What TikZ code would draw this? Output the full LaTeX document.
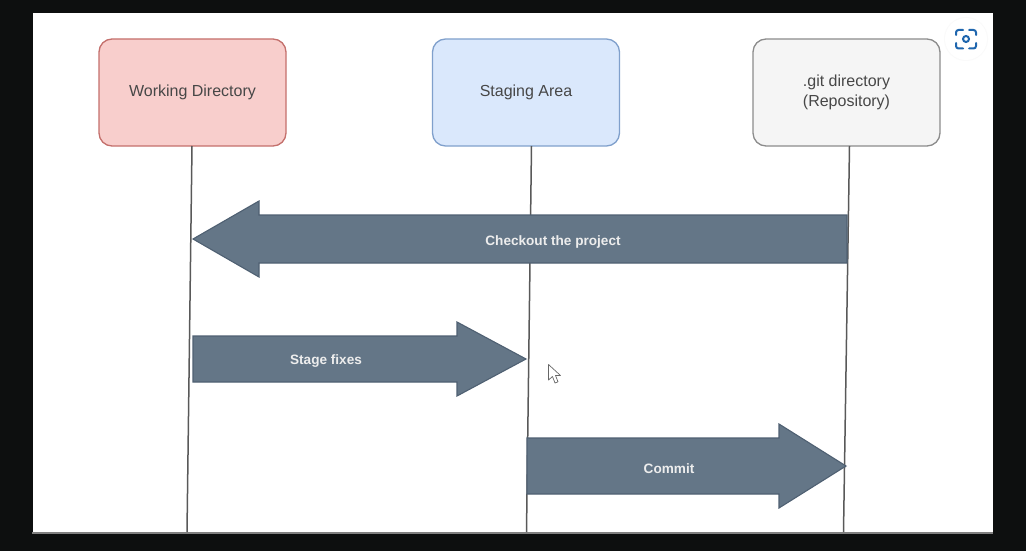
\documentclass[tikz,border=0pt]{standalone}
\usepackage{fontspec}
\setmainfont{Liberation Sans}
\definecolor{frame}{HTML}{0D0F0F}
\definecolor{slatefill}{HTML}{647687}
\definecolor{slateline}{HTML}{4F6072}
\definecolor{iconblue}{HTML}{1F66AE}
\tikzset{
  lane/.style={rounded corners=13pt,minimum width=187pt,minimum height=107pt,line width=1.3pt,
    align=center,font=\fontsize{16}{20}\selectfont,text=black!72,inner sep=0pt},
  lifeline/.style={draw=black!65,line width=1.5pt},
  bigarrow/.style={fill=slatefill,draw=slateline,line width=1.1pt,line join=miter},
  arrowtext/.style={text=white!93!black,font=\fontsize{13.6}{16}\selectfont\bfseries,inner sep=0pt}
}
\begin{document}
\begin{tikzpicture}[x=1pt,y=-1pt]
\useasboundingbox (0,0) rectangle (1026,551);
\fill[frame] (0,0) rectangle (1026,551);
\fill[white] (33,13) rectangle (993,532);
\draw[black!50,line width=1.8pt] (32,532.8) -- (993,532.8);

\node[lane,draw={rgb,255:red,196;green,112;blue,108},fill={rgb,255:red,248;green,206;blue,204}] (wd) at (192.5,92.5) {Working Directory};
\node[lane,draw={rgb,255:red,128;green,160;blue,204},fill={rgb,255:red,218;green,232;blue,252}] (sa) at (526,92.5) {Staging Area};
\node[lane,draw={rgb,255:red,140;green,140;blue,140},fill={rgb,255:red,245;green,245;blue,245}] (git) at (846.5,92.5) {.git directory\\(Repository)};

\coordinate (wdend) at (187,532);
\coordinate (saend) at (526.5,532);
\coordinate (gitend) at (843.5,532);
\draw[lifeline] (192,146) -- (wdend);
\draw[lifeline] (531.5,146) -- (saend);
\draw[lifeline] (849.5,146) -- (gitend);

\draw[bigarrow] (847,215) -- (259,215) -- (259,201) -- (193,239) -- (259,277) -- (259,263) -- (847,263) -- cycle;
\node[arrowtext] (checkout) at (553,242) {Checkout the project};

\draw[bigarrow] (193,336) -- (457,336) -- (457,322) -- (526,359) -- (457,396) -- (457,382) -- (193,382) -- cycle;
\node[arrowtext] (stage) at (326,361) {Stage fixes};

\draw[bigarrow] (527,438) -- (779,438) -- (779,424) -- (846,466) -- (779,508) -- (779,494) -- (527,494) -- cycle;
\node[arrowtext] (commit) at (669,469) {Commit};

% mouse pointer
\draw[fill=white,draw=black!60,line width=0.7pt,line join=round] (548.5,364.5) -- (548.5,380) -- (552.5,376.5) -- (555,383) -- (558,381.8) -- (555.5,375.5) -- (560.5,375.5) -- cycle;

% lens button
\fill[black!2] (966,39) circle (22);
\fill[white] (966,39) circle (21);
\begin{scope}[iconblue,line width=2pt,line cap=round,rounded corners=2.5pt]
\draw (956,35) -- (956,30) -- (963,30);
\draw (969,30) -- (976,30) -- (976,35);
\draw (976,43) -- (976,48.5) -- (969,48.5);
\draw (963,48.5) -- (956,48.5) -- (956,43);
\end{scope}
\draw[iconblue,line width=2pt] (966,39) circle (3);
\end{tikzpicture}
\end{document}
